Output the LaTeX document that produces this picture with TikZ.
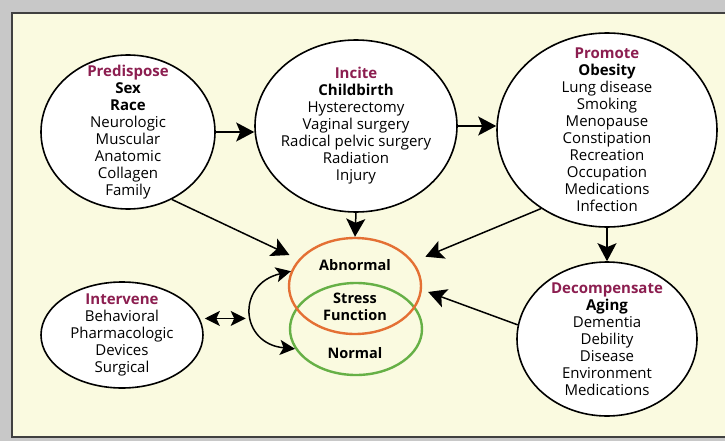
\documentclass[tikz,border=0pt]{standalone}
\usepackage{fontspec}
\setmainfont{Open Sans}
\usetikzlibrary{shapes.geometric, arrows.meta}

\definecolor{cream}{RGB}{250,250,224}
\definecolor{outer}{RGB}{200,200,200}
\definecolor{plum}{RGB}{140,30,80}
\definecolor{abnorange}{RGB}{228,112,52}
\definecolor{normgreen}{RGB}{102,176,70}

\newcommand{\ttl}[1]{{\color{plum}\bfseries #1}}

\begin{document}
\begin{tikzpicture}[
  x=1pt, y=-1pt,
  bubble/.style={draw, ellipse, fill=white, line width=1.6pt, inner sep=-40pt, align=center, font=\fontsize{15}{17}\selectfont},
  ring/.style={draw, ellipse, line width=2.4pt, inner sep=0pt},
  tag/.style={align=center, font=\bfseries\fontsize{14.5}{17}\selectfont},
  arrow/.style={-{Stealth[length=18pt, width=19pt, inset=4pt]}, line width=1.5pt},
  twoway/.style={{Stealth[length=15pt, width=15pt, inset=3.5pt]}-{Stealth[length=15pt, width=15pt, inset=3.5pt]}, line width=1.5pt},
]

% Frame
\fill[outer] (0,0) rectangle (725,441);
\useasboundingbox (0,0) rectangle (725,441);
\draw[fill=cream, line width=1.5pt, draw=black!75] (12,13) rectangle (740,437);

% Bubbles
\node[bubble, minimum width=174pt, minimum height=154pt] (pred) at (128,132) {\ttl{Predispose}\\\textbf{Sex}\\\textbf{Race}\\Neurologic\\Muscular\\Anatomic\\Collagen\\Family};
\node[bubble, minimum width=202pt, minimum height=172pt] (inc) at (356,126) {\ttl{Incite}\\\textbf{Childbirth}\\Hysterectomy\\Vaginal surgery\\Radical pelvic surgery\\Radiation\\Injury};
\node[bubble, minimum width=220pt, minimum height=194pt] (prom) at (607,130) {\ttl{Promote}\\\textbf{Obesity}\\Lung disease\\Smoking\\Menopause\\Constipation\\Recreation\\Occupation\\Medications\\Infection};
\node[bubble, minimum width=180pt, minimum height=154pt] (dec) at (607,339) {\ttl{Decompensate}\\\textbf{Aging}\\Dementia\\Debility\\Disease\\Environment\\Medications};
\node[bubble, minimum width=162pt, minimum height=106pt] (int) at (122,335) {\ttl{Intervene}\\Behavioral\\Pharmacologic\\Devices\\Surgical};

% Stress function
\node[ring, draw=normgreen, minimum width=132pt, minimum height=92pt] (norm) at (356,329) {};
\node[ring, draw=abnorange, minimum width=132pt, minimum height=96pt] (abn) at (355,286) {};
\node[tag] (abntxt) at (355,265) {Abnormal};
\node[tag] (stress) at (355,307) {Stress\\Function};
\node[tag] (normtxt) at (355,353) {Normal};

% Arrows
\draw[arrow] (pred.east) -- (pred.east -| inc.west);
\draw[arrow] (inc.east) -- (inc.east -| prom.west);
\draw[arrow] (inc.south) -- (abn.north);
\draw[arrow] (prom.south) -- (dec.north);
\draw[arrow, shorten >=10pt] (pred.-57) -- (abn);
\draw[arrow, shorten >=13pt] (prom.-130) -- (abn);
\draw[arrow] (dec.171) -- ([xshift=6pt, yshift=-6pt]abn.east);

% Intervention loop
\draw[twoway] (abn.167) .. controls +(-55,13) and +(-55,-5) .. (norm.198) coordinate[pos=0.5] (bow);
\draw[twoway, shorten <=5pt, shorten >=6pt] (int.12) -- (int.12 -| bow);

\end{tikzpicture}
\end{document}
